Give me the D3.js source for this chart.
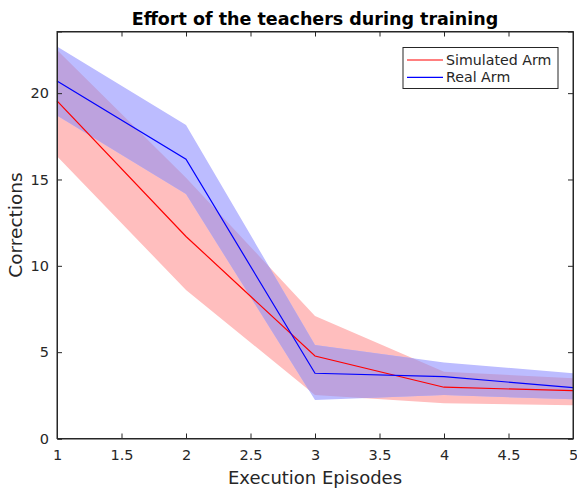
<!DOCTYPE html>
<html>
<head>
<meta charset="utf-8">
<script src="https://cdn.jsdelivr.net/npm/d3@7"></script>
<style>
  body { margin: 0; background: #fff; }
  text { font-family: "DejaVu Sans", sans-serif; fill: #262626; }
</style>
</head>
<body>
<div id="chart"></div>
<script>
      var w = 577;
      var h = 492;

      // episodes and values
      var episodes = [1, 2, 3, 4, 5];
      var simMean  = [19.55, 11.7, 4.78, 2.97, 2.77];
      var simUpper = [22.5, 15.1, 7.1, 3.87, 3.49];
      var simLower = [16.35, 8.6, 2.52, 2.04, 1.93];
      var realMean  = [20.7, 16.17, 3.78, 3.58, 2.95];
      var realUpper = [22.7, 18.15, 5.42, 4.4, 3.78];
      var realLower = [18.7, 14.16, 2.23, 2.52, 2.27];
      var xTicks = [1, 1.5, 2, 2.5, 3, 3.5, 4, 4.5, 5];
      var yTicks = [0, 5, 10, 15, 20];

      // plot box (window.top is taken, so own names)
      var pLeft = 57, pRight = 573, pTop = 31.5, pBottom = 438.5;

      var xScale = d3.scaleLinear().domain([1, 5]).range([pLeft, pRight]);
      var yScale = d3.scaleLinear().domain([0, 23.57]).range([pBottom, pTop]);

      var svg = d3.select("#chart")
            .append("svg")
            .attr("width", w)
            .attr("height", h);

      function band(up, lo) {
        return d3.area()
          .x(function(d, i) { return xScale(episodes[i]); })
          .y0(function(d, i) { return yScale(lo[i]); })
          .y1(function(d, i) { return yScale(up[i]); })(episodes);
      }
      function line(vals) {
        return d3.line()
          .x(function(d, i) { return xScale(episodes[i]); })
          .y(function(d, i) { return yScale(vals[i]); })(episodes);
      }

      //shaded bands, overlap painted in its own colour
      svg.append("clipPath").attr("id", "simClip")
        .append("path").attr("d", band(simUpper, simLower));
      svg.append("path").attr("d", band(simUpper, simLower))
        .style("fill", "#ffbebe");
      svg.append("path").attr("d", band(realUpper, realLower))
        .style("fill", "#bcbcff");
      svg.append("path").attr("d", band(realUpper, realLower))
        .attr("clip-path", "url(#simClip)")
        .style("fill", "#bda2de");

      //mean lines
      svg.append("path").attr("d", line(simMean))
        .style("fill", "none").style("stroke", "#ff0000").style("stroke-width", 1.2);
      svg.append("path").attr("d", line(realMean))
        .style("fill", "none").style("stroke", "#0000ff").style("stroke-width", 1.2);

      //axes, ticks inward on all four sides
      var xAxis = d3.axisBottom(xScale).tickValues(xTicks).tickSize(-5).tickPadding(11)
                .tickFormat(d3.format("~g"));
      var yAxis = d3.axisLeft(yScale).tickValues(yTicks).tickSize(-5).tickPadding(8);

      svg.append("g")
        .attr("transform", "translate(0," + pBottom + ")")
        .call(xAxis);
      svg.append("g")
        .attr("transform", "translate(" + pLeft + ",0)")
        .call(yAxis);
      svg.append("g")
        .attr("transform", "translate(0," + pTop + ")")
        .call(d3.axisTop(xScale).tickValues(xTicks).tickSize(-5).tickFormat(""));
      svg.append("g")
        .attr("transform", "translate(" + pRight + ",0)")
        .call(d3.axisRight(yScale).tickValues(yTicks).tickSize(-5).tickFormat(""));

      svg.selectAll(".domain").style("stroke", "#262626");
      svg.selectAll(".tick line").style("stroke", "#262626");
      svg.selectAll(".tick text").style("font-size", "14.5px")
        .style("font-family", "DejaVu Sans, sans-serif").style("fill", "#262626");
      svg.append("rect")
        .attr("x", pLeft).attr("y", pTop)
        .attr("width", pRight - pLeft).attr("height", pBottom - pTop)
        .style("fill", "none").style("stroke", "#262626").style("stroke-width", 1);

      //title and labels
      svg.append("text")
        .attr("x", (pLeft + pRight) / 2)
        .attr("y", 25)
        .attr("text-anchor", "middle")
        .style("font-size", "17.5px")
        .style("font-weight", "bold")
        .style("fill", "#000")
        .text("Effort of the teachers during training");

      svg.append("text")
        .attr("x", (pLeft + pRight) / 2)
        .attr("y", 484)
        .attr("text-anchor", "middle")
        .style("font-size", "18px")
        .text("Execution Episodes");

      svg.append("text")
        .attr("transform", "translate(22," + ((pTop + pBottom) / 2 - 10) + ") rotate(-90)")
        .attr("text-anchor", "middle")
        .style("font-size", "18.5px")
        .text("Corrections");

      //legend
      var legendData = [
        {name: "Simulated Arm", color: "#ff0000"},
        {name: "Real Arm", color: "#0000ff"}
      ];
      var lg = svg.append("g").attr("transform", "translate(403,47.5)");
      lg.append("rect")
        .attr("width", 155).attr("height", 41)
        .style("fill", "#fff").style("stroke", "#262626").style("stroke-width", 1);
      var item = lg.selectAll(".legend")
        .data(legendData)
        .enter().append("g")
        .attr("class", "legend")
        .attr("transform", function(d, i) { return "translate(0," + (12.5 + i * 17.3) + ")"; });
      item.append("line")
        .attr("x1", 4).attr("x2", 40)
        .style("stroke", function(d) { return d.color; }).style("stroke-width", 1.2);
      item.append("text")
        .attr("x", 43).attr("y", 5)
        .style("font-size", "14.2px")
        .text(function(d) { return d.name; });
</script>
</body>
</html>
